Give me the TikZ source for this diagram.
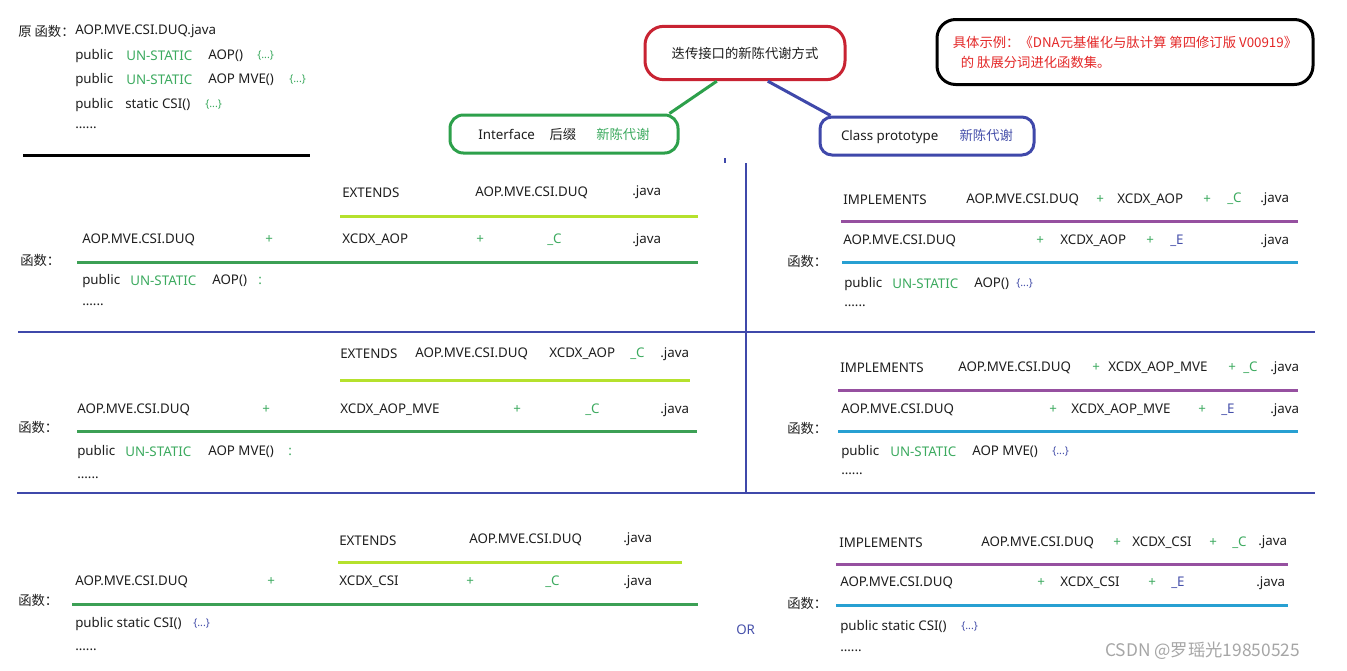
\documentclass[tikz,border=0pt]{standalone}
\usepackage{fontspec}
\setmainfont{Noto Sans}
\newfontfamily\cjk{Noto Sans CJK SC}
\usetikzlibrary{positioning}

\definecolor{txtblack}{RGB}{30,30,30}
\definecolor{txtgreen}{RGB}{60,170,95}
\definecolor{txtblue}{RGB}{70,80,170}
\definecolor{txtred}{RGB}{228,40,40}
\definecolor{boxred}{RGB}{200,35,50}
\definecolor{boxgreen}{RGB}{45,160,75}
\definecolor{lineblue}{RGB}{63,72,170}
\definecolor{barlime}{RGB}{181,225,45}
\definecolor{bargreen}{RGB}{60,160,85}
\definecolor{barpurple}{RGB}{150,80,160}
\definecolor{barcyan}{RGB}{40,160,210}

\begin{document}
\begin{tikzpicture}[x=0.75pt, y=-0.75pt,
  tx/.style={anchor=west, inner sep=0pt, text=txtblack},
  gn/.style={tx, text=txtgreen},
  bl/.style={tx, text=txtblue},
  sm/.style={font=\fontsize{8}{9}\selectfont},
  zh/.style={font=\cjk},
  redbox/.style={draw=boxred, line width=2.25pt, rounded corners=14pt, minimum width=150pt, minimum height=40pt, font=\cjk, text=txtblack},
  greenbox/.style={draw=boxgreen, line width=2.25pt, rounded corners=10pt, minimum width=171pt, minimum height=28.5pt, text=txtblack},
  bluebox/.style={draw=lineblue, line width=2.25pt, rounded corners=9pt, minimum width=160.5pt, minimum height=28.5pt, text=txtblack},
  notebox/.style={draw=black, line width=2.25pt, rounded corners=14pt, minimum width=282pt, minimum height=48.75pt, align=left, font=\cjk, text=txtred},
  sepline/.style={draw=lineblue, line width=1.5pt},
  limebar/.style={draw=barlime, line width=2.25pt},
  greenbar/.style={draw=bargreen, line width=2.25pt},
  purplebar/.style={draw=barpurple, line width=2.25pt},
  cyanbar/.style={draw=barcyan, line width=2.25pt}
]
\fill[white] (0,0) rectangle (1347,671);
\useasboundingbox (0,0) rectangle (1347,671);

% original functions
\node[tx, zh] (orig) at (18,31) {原 函数：};
\node[tx] (origfile) at (75,31) {AOP.MVE.CSI.DUQ.java};
\node[tx] (o1pub) at (75,56) {public};
\node[gn] (o1un) at (126,56) {UN-STATIC};
\node[tx] (o1fn) at (208,56) {AOP()};
\node[gn, sm] (o1br) at (257,56) {\{...\}};
\node[tx] (o2pub) at (75,80) {public};
\node[gn] (o2un) at (126,80) {UN-STATIC};
\node[tx] (o2fn) at (208,80) {AOP MVE()};
\node[gn, sm] (o2br) at (289,80) {\{...\}};
\node[tx] (o3pub) at (75,105) {public};
\node[tx] (o3fn) at (125,105) {static CSI()};
\node[gn, sm] (o3br) at (205,105) {\{...\}};
\node[tx] (odots) at (75,128) {......};
\draw[line width=2.25pt] (23,155) -- (310,155);

% title boxes
\node[redbox] (modes) at (745,53) {迭传接口的新陈代谢方式};
\node[greenbox] (ifbox) at (564,134) {Interface\hspace{11pt}{\cjk 后缀}\hspace{15pt}{\cjk\color{txtgreen}新陈代谢}};
\node[bluebox] (clsbox) at (927,136) {Class prototype\hspace{16pt}{\cjk\color{txtblue}新陈代谢}};
\node[notebox] (note) at (1125,52) {具体示例：《DNA元基催化与肽计算 第四修订版 V00919》\\[3pt]\hspace{6pt}的 肽展分词进化函数集。};
\draw[draw=boxgreen, line width=2.25pt] (ifbox.11) -- (modes.225);
\draw[draw=lineblue, line width=2.25pt] (modes.309) -- (clsbox.168);

% grid
\draw[sepline] (725,158) -- (725,163);
\draw[sepline] (746,163) -- (746,493);
\draw[sepline] (18,332) -- (1315,332);
\draw[sepline] (17,493) -- (1315,493);

% AOP() extends
\node[tx] (a1ext) at (342,193) {EXTENDS};
\node[tx] (a1duq) at (475,193) {AOP.MVE.CSI.DUQ};
\node[tx] (a1java) at (632,192) {.java};
\draw[limebar] (340,216) -- (698,216);
\node[tx, zh] (afun) at (20,260) {函数：};
\node[tx] (a2duq) at (82,240) {AOP.MVE.CSI.DUQ};
\node[gn] (a2plus) at (265,240) {+};
\node[tx] (a2xc) at (342,240) {XCDX\_AOP};
\node[gn] (a2plusb) at (476,240) {+};
\node[gn] (a2c) at (547,240) {\_C};
\node[tx] (a2java) at (632,240) {.java};
\draw[greenbar] (77,262) -- (698,262);
\node[tx] (a3pub) at (82,281) {public};
\node[gn] (a3un) at (130,281) {UN-STATIC};
\node[tx] (a3fn) at (212,281) {AOP()};
\node[gn] (a3col) at (258,281) {:};
\node[tx] (a3dots) at (82,305) {......};

% AOP() implements
\node[tx] (b1imp) at (843,200) {IMPLEMENTS};
\node[tx] (b1duq) at (966,200) {AOP.MVE.CSI.DUQ};
\node[gn] (b1plus) at (1096,200) {+};
\node[tx] (b1xc) at (1117,200) {XCDX\_AOP};
\node[gn] (b1plusb) at (1203,200) {+};
\node[gn] (b1c) at (1227,199) {\_C};
\node[tx] (b1java) at (1260,199) {.java};
\draw[purplebar] (841,221) -- (1298,221);
\node[tx] (b2duq) at (843,241) {AOP.MVE.CSI.DUQ};
\node[gn] (b2plus) at (1036,241) {+};
\node[tx] (b2xc) at (1060,241) {XCDX\_AOP};
\node[gn] (b2plusb) at (1146,241) {+};
\node[bl] (b2e) at (1170,241) {\_E};
\node[tx] (b2java) at (1260,241) {.java};
\draw[cyanbar] (842,262) -- (1298,262);
\node[tx, zh] (bfun) at (787,261) {函数：};
\node[tx] (b3pub) at (844,284) {public};
\node[gn] (b3un) at (892,284) {UN-STATIC};
\node[tx] (b3fn) at (974,284) {AOP()};
\node[bl, sm] (b3br) at (1016,284) {\{...\}};
\node[tx] (b3dots) at (844,306) {......};

% AOP MVE() extends
\node[tx] (c1ext) at (340,354) {EXTENDS};
\node[tx] (c1duq) at (415,354) {AOP.MVE.CSI.DUQ};
\node[tx] (c1xc) at (549,354) {XCDX\_AOP};
\node[gn] (c1c) at (630,354) {\_C};
\node[tx] (c1java) at (660,354) {.java};
\draw[limebar] (340,380) -- (690,380);
\node[tx, zh] (cfun) at (18,427) {函数：};
\node[tx] (c2duq) at (77,410) {AOP.MVE.CSI.DUQ};
\node[gn] (c2plus) at (262,410) {+};
\node[tx] (c2xc) at (340,410) {XCDX\_AOP\_MVE};
\node[gn] (c2plusb) at (513,410) {+};
\node[gn] (c2c) at (585,410) {\_C};
\node[tx] (c2java) at (660,410) {.java};
\draw[greenbar] (77,431) -- (697,431);
\node[tx] (c3pub) at (77,452) {public};
\node[gn] (c3un) at (125,452) {UN-STATIC};
\node[tx] (c3fn) at (208,452) {AOP MVE()};
\node[gn] (c3col) at (288,452) {:};
\node[tx] (c3dots) at (77,478) {......};

% AOP MVE() implements
\node[tx] (d1imp) at (840,368) {IMPLEMENTS};
\node[tx] (d1duq) at (958,368) {AOP.MVE.CSI.DUQ};
\node[gn] (d1plus) at (1092,368) {+};
\node[tx] (d1xc) at (1108,368) {XCDX\_AOP\_MVE};
\node[gn] (d1plusb) at (1228,368) {+};
\node[gn] (d1c) at (1243,368) {\_C};
\node[tx] (d1java) at (1270,368) {.java};
\draw[purplebar] (838,390) -- (1298,390);
\node[tx] (d2duq) at (841,410) {AOP.MVE.CSI.DUQ};
\node[gn] (d2plus) at (1049,410) {+};
\node[tx] (d2xc) at (1071,410) {XCDX\_AOP\_MVE};
\node[gn] (d2plusb) at (1198,410) {+};
\node[bl] (d2e) at (1221,410) {\_E};
\node[tx] (d2java) at (1270,410) {.java};
\draw[cyanbar] (838,431) -- (1298,431);
\node[tx, zh] (dfun) at (787,428) {函数：};
\node[tx] (d3pub) at (841,452) {public};
\node[gn] (d3un) at (890,452) {UN-STATIC};
\node[tx] (d3fn) at (972,452) {AOP MVE()};
\node[bl, sm] (d3br) at (1052,452) {\{...\}};
\node[tx] (d3dots) at (841,474) {......};

% static CSI() extends
\node[tx] (e1ext) at (339,541) {EXTENDS};
\node[tx] (e1duq) at (469,540) {AOP.MVE.CSI.DUQ};
\node[tx] (e1java) at (623,539) {.java};
\draw[limebar] (338,562) -- (682,562);
\node[tx, zh] (efun) at (18,600) {函数：};
\node[tx] (e2duq) at (75,582) {AOP.MVE.CSI.DUQ};
\node[gn] (e2plus) at (267,582) {+};
\node[tx] (e2xc) at (339,582) {XCDX\_CSI};
\node[gn] (e2plusb) at (466,582) {+};
\node[gn] (e2c) at (545,582) {\_C};
\node[tx] (e2java) at (623,582) {.java};
\draw[greenbar] (72,604) -- (698,604);
\node[tx] (e3fn) at (75,624) {public static CSI()};
\node[bl, sm] (e3br) at (193,624) {\{...\}};
\node[tx] (e3dots) at (75,650) {......};

% static CSI() implements
\node[tx] (f1imp) at (839,543) {IMPLEMENTS};
\node[tx] (f1duq) at (981,543) {AOP.MVE.CSI.DUQ};
\node[gn] (f1plus) at (1113,543) {+};
\node[tx] (f1xc) at (1132,543) {XCDX\_CSI};
\node[gn] (f1plusb) at (1209,543) {+};
\node[gn] (f1c) at (1232,543) {\_C};
\node[tx] (f1java) at (1258,542) {.java};
\draw[purplebar] (836,564) -- (1288,564);
\node[tx] (f2duq) at (840,583) {AOP.MVE.CSI.DUQ};
\node[gn] (f2plus) at (1037,583) {+};
\node[tx] (f2xc) at (1060,583) {XCDX\_CSI};
\node[gn] (f2plusb) at (1148,583) {+};
\node[bl] (f2e) at (1171,583) {\_E};
\node[tx] (f2java) at (1256,583) {.java};
\draw[cyanbar] (836,605) -- (1288,605);
\node[tx, zh] (ffun) at (787,603) {函数：};
\node[tx] (f3fn) at (840,627) {public static CSI()};
\node[bl, sm] (f3br) at (961,627) {\{...\}};
\node[tx] (f3dots) at (840,651) {......};
\node[bl] (orlbl) at (736,630) {OR};

\node[tx, text=black!35, font=\cjk\fontsize{13}{15}\selectfont] (mark) at (1105,651) {CSDN @罗瑶光19850525};
\end{tikzpicture}
\end{document}
